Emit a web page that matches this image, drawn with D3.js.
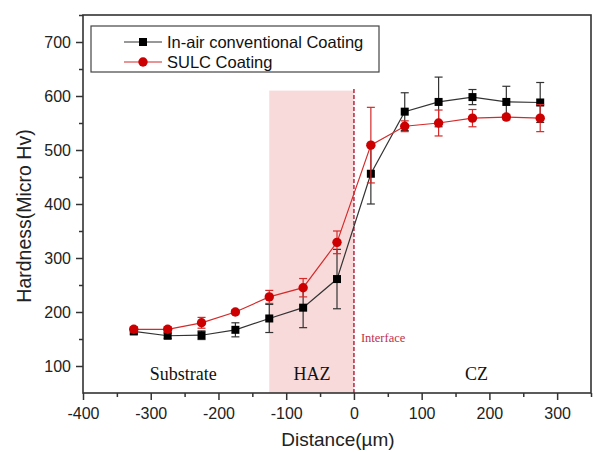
<!DOCTYPE html>
<html>
<head>
<meta charset="utf-8">
<script src="https://cdn.jsdelivr.net/npm/d3@7"></script>
<style>
  body { margin: 0; background: #fff; }
  text { font-family: Arial, "Liberation Sans", sans-serif; }
</style>
</head>
<body>
<div id="chart"></div>
<script>
// distances (µm) at which hardness was measured
const distances = [-325, -275, -225, -175, -125, -75, -25, 25, 75, 125, 175, 225, 275]

const conventional = [164, 156, 157, 167, 188, 208, 261, 456, 571, 589, 598, 589, 588]
const conventionalErr = [5, 5, 8, 13, 26, 37, 55, 56, 35, 46, 14, 29, 37]

const sulc = [168, 168, 180, 200, 228, 245, 329, 509, 544, 550, 559, 561, 559]
const sulcErr = [5, 5, 10, 4, 12, 17, 21, 70, 10, 24, 16, 5, 25]

const xTicks = [-400, -300, -200, -100, 0, 100, 200, 300]
const yTicks = [100, 200, 300, 400, 500, 600, 700]

const hazRange = [-125, 0]
const hazTop = 610

const zones = [
  { label: "Substrate", x: -252 },
  { label: "HAZ", x: -62 },
  { label: "CZ", x: 181 },
]

const width = 594
const height = 452
const margin = { top: 15, right: 3, bottom: 59, left: 83 }

const svg = d3.select("#chart")
  .append("svg")
  .attr("width", width)
  .attr("height", height)

const xScale = d3.scaleLinear()
  .domain([-400, 350])
  .range([margin.left, width - margin.right])

const yScale = d3.scaleLinear()
  .domain([50, 750])
  .range([height - margin.bottom, margin.top])

// plain hyphen for negatives, as in the original figure
const fmt = (d) => String(d)

// heat affected zone band
svg.append("rect")
  .attr("x", xScale(hazRange[0]))
  .attr("y", yScale(hazTop))
  .attr("width", xScale(hazRange[1]) - xScale(hazRange[0]))
  .attr("height", yScale(50) - yScale(hazTop))
  .attr("fill", "#f9dada")

svg.append("line")
  .attr("x1", xScale(0))
  .attr("x2", xScale(0))
  .attr("y1", yScale(50))
  .attr("y2", yScale(hazTop + 5))
  .attr("stroke", "#c0304a")
  .attr("stroke-width", 1.6)
  .attr("stroke-dasharray", "4,2")

svg.append("text")
  .attr("x", xScale(0) + 7)
  .attr("y", yScale(145))
  .attr("fill", "#c0304a")
  .style("font-family", "'Liberation Serif', 'DejaVu Serif', serif")
  .style("font-size", "12.5px")
  .text("Interface")

svg.selectAll("text.zone")
  .data(zones)
  .join("text")
  .attr("class", "zone")
  .attr("x", (d) => xScale(d.x))
  .attr("y", yScale(75))
  .attr("text-anchor", "middle")
  .attr("fill", "#111")
  .style("font-family", "'Liberation Serif', 'DejaVu Serif', serif")
  .style("font-size", "18px")
  .text((d) => d.label)

// frame
svg.append("rect")
  .attr("x", margin.left)
  .attr("y", margin.top)
  .attr("width", width - margin.left - margin.right)
  .attr("height", height - margin.top - margin.bottom)
  .attr("fill", "none")
  .attr("stroke", "#333")
  .attr("stroke-width", 1.6)

svg.append("g")
  .attr("transform", `translate(0, ${height - margin.bottom})`)
  .call(d3.axisBottom(xScale).tickValues(d3.range(-350, 351, 100)).tickSize(4).tickFormat(""))

svg.append("g")
  .attr("transform", `translate(0, ${height - margin.bottom})`)
  .call(d3.axisBottom(xScale).tickValues(xTicks).tickSize(7).tickPadding(8).tickFormat(fmt))

svg.append("g")
  .attr("transform", `translate(${margin.left}, 0)`)
  .call(d3.axisLeft(yScale).tickValues(d3.range(150, 751, 100)).tickSize(4).tickFormat(""))

svg.append("g")
  .attr("transform", `translate(${margin.left}, 0)`)
  .call(d3.axisLeft(yScale).tickValues(yTicks).tickSize(7).tickPadding(5).tickFormat(fmt))

svg.selectAll(".domain").remove()
svg.selectAll(".tick line").attr("stroke", "#333").attr("stroke-width", 1.5)
svg.selectAll(".tick text")
  .attr("fill", "#222")
  .style("font-family", "Arial, 'Liberation Sans', sans-serif")
  .style("font-size", "16px")

svg.append("text")
  .attr("x", 338)
  .attr("y", 446)
  .attr("text-anchor", "middle")
  .attr("fill", "#222")
  .style("font-size", "19px")
  .text("Distance(µm)")

svg.append("text")
  .attr("transform", `translate(31, 216) rotate(-90)`)
  .attr("text-anchor", "middle")
  .attr("fill", "#222")
  .style("font-size", "19.5px")
  .text("Hardness(Micro Hv)")

const series = [
  { values: conventional, errors: conventionalErr, line: "#333", mark: "#000", shape: "square" },
  { values: sulc, errors: sulcErr, line: "#d42a2a", mark: "#cc0000", shape: "circle" },
]

const lineGenerator = d3.line()
  .x((d) => xScale(d.x))
  .y((d) => yScale(d.y))

function drawMarker(sel, s, cx, cy) {
  if (s.shape === "square") {
    sel.append("rect")
      .attr("x", cx - 4)
      .attr("y", cy - 4)
      .attr("width", 8)
      .attr("height", 8)
      .attr("fill", s.mark)
  } else {
    sel.append("circle")
      .attr("cx", cx)
      .attr("cy", cy)
      .attr("r", 4.7)
      .attr("fill", s.mark)
  }
}

series.forEach((s) => {
  const data = distances.map((x, i) => ({ x, y: s.values[i], e: s.errors[i] }))
  const g = svg.append("g")

  g.append("path")
    .datum(data)
    .attr("fill", "none")
    .attr("stroke", s.line)
    .attr("stroke-width", 1.2)
    .attr("d", lineGenerator)

  data.forEach((d) => {
    const cx = xScale(d.x)
    const top = yScale(d.y + d.e)
    const bot = yScale(d.y - d.e)
    g.append("line")
      .attr("x1", cx).attr("x2", cx)
      .attr("y1", top).attr("y2", bot)
      .attr("stroke", s.line)
      .attr("stroke-width", 1.2)
    ;[top, bot].forEach((yy) => {
      g.append("line")
        .attr("x1", cx - 4).attr("x2", cx + 4)
        .attr("y1", yy).attr("y2", yy)
        .attr("stroke", s.line)
        .attr("stroke-width", 1.2)
    })
    drawMarker(g, s, cx, yScale(d.y))
  })
})

// legend
const legend = svg.append("g")
legend.append("rect")
  .attr("x", 91)
  .attr("y", 26)
  .attr("width", 288)
  .attr("height", 46)
  .attr("fill", "#fff")
  .attr("stroke", "#444")
  .attr("stroke-width", 1.2)

const legendLabels = ["In-air conventional Coating", "SULC Coating"]
series.forEach((s, i) => {
  const cy = 42 + i * 20
  legend.append("line")
    .attr("x1", 124).attr("x2", 162)
    .attr("y1", cy).attr("y2", cy)
    .attr("stroke", s.line)
    .attr("stroke-width", 1.2)
  drawMarker(legend, s, 143, cy)
  legend.append("text")
    .attr("x", 167)
    .attr("y", cy + 6)
    .attr("fill", "#111")
    .style("font-size", "16.5px")
    .text(legendLabels[i])
})
</script>
</body>
</html>
